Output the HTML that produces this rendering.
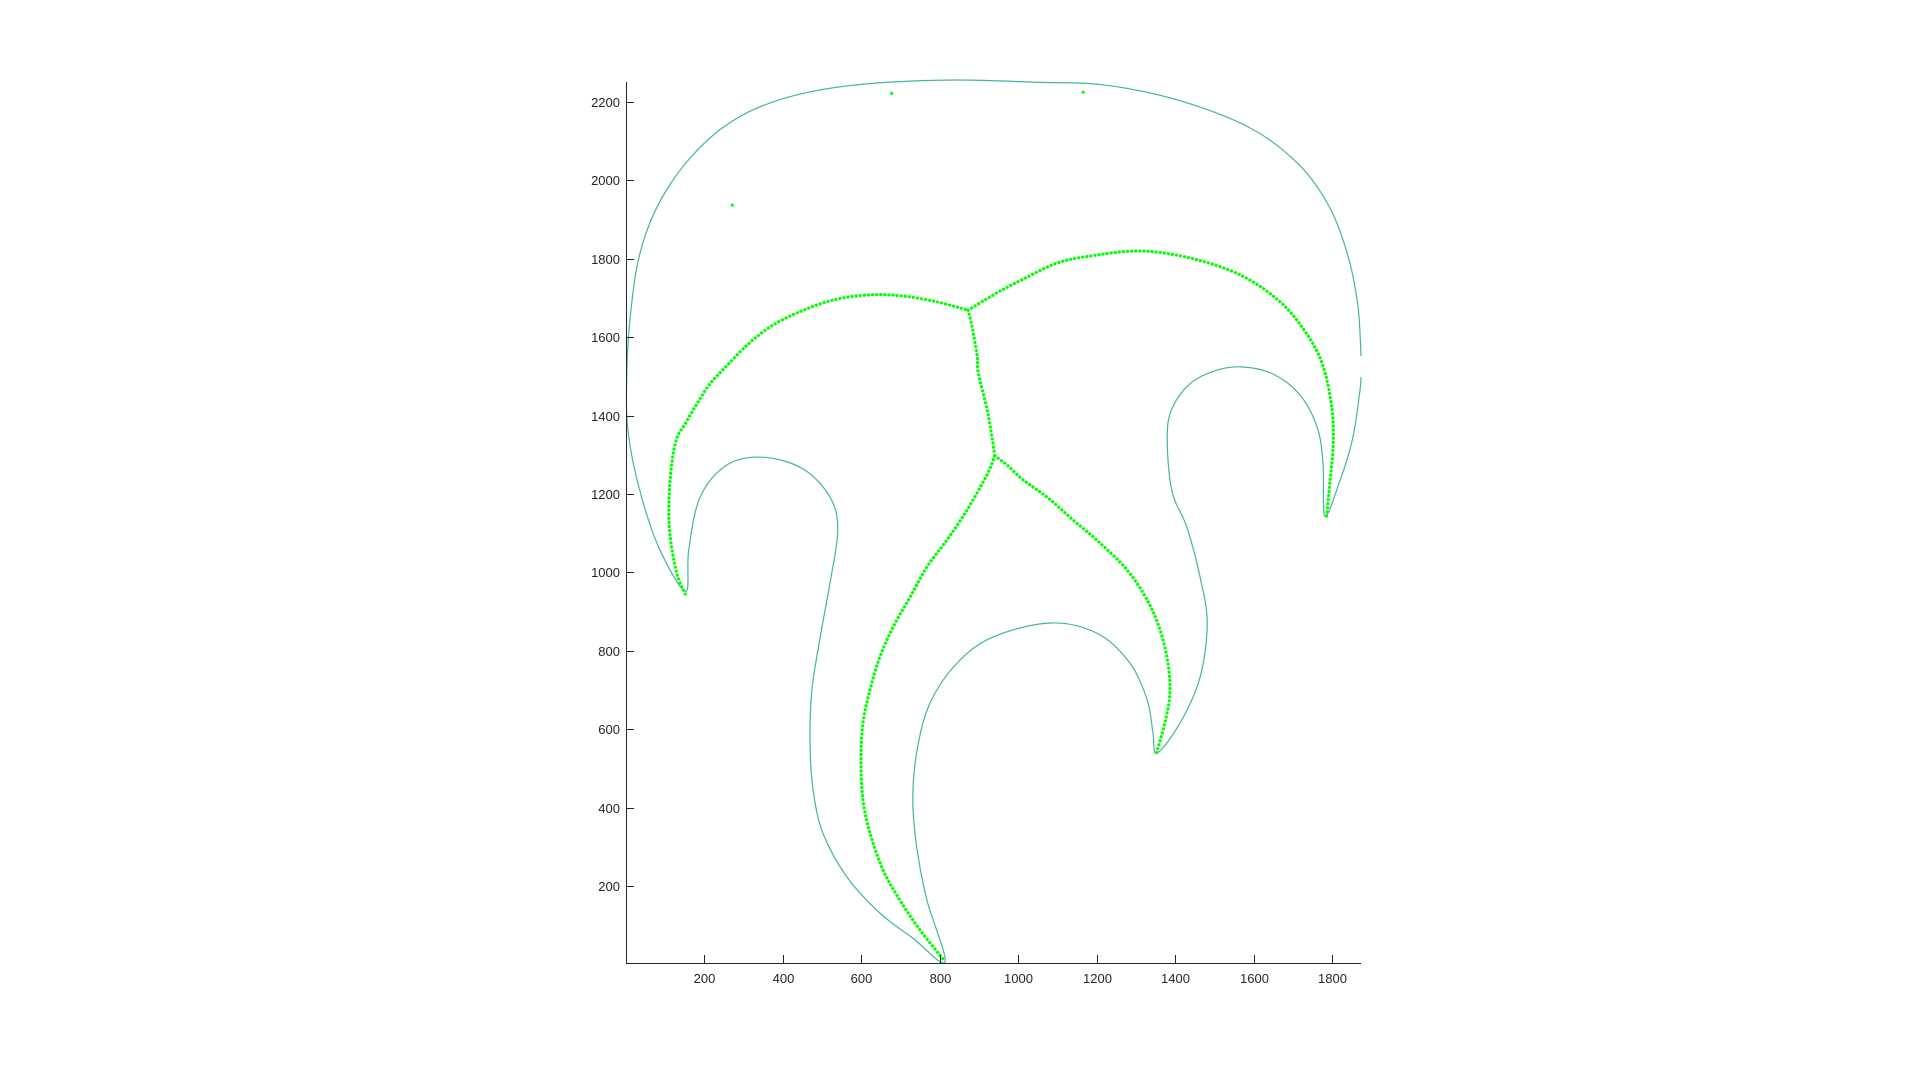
<!DOCTYPE html>
<html><head><meta charset="utf-8"><style>
html,body{margin:0;padding:0;background:#fff;}
svg{display:block;}
text{font-family:"Liberation Sans",sans-serif;font-size:13px;fill:#262626;}
</style></head>
<body>
<svg id="chart" width="1920" height="1083" viewBox="0 0 1920 1083" xmlns="http://www.w3.org/2000/svg">
<rect width="1920" height="1083" fill="#fff"/>
<g id="plot"></g>
<g id="axes"></g>
</svg>
<script>
const xTicks=[200,400,600,800,1000,1200,1400,1600,1800];
const yTicks=[200,400,600,800,1000,1200,1400,1600,1800,2000,2200];
const outlineA=[[1874,1498],[1871,1463],[1853,1343],[1820,1233],[1782,1144],[1777,1279],[1762,1371],[1718,1453],[1650,1506],[1573,1524],[1507,1516],[1438,1481],[1392,1417],[1380,1343],[1392,1208],[1430,1116],[1464,988],[1482,871],[1464,733],[1413,616],[1354,539],[1344,590],[1329,675],[1285,769],[1201,845],[1082,871],[936,835],[845,769],[776,667],[743,547],[732,419],[743,292],[768,164],[814,6],[732,67],[648,131],[564,223],[503,335],[478,445],[470,565],[475,700],[496,835],[521,973],[541,1108],[521,1192],[452,1264],[350,1294],[258,1274],[190,1192],[161,1057],[152,952],[80,1075],[29,1238],[5,1373],[3,1491],[9,1618],[28,1774],[59,1884],[106,1978],[169,2062],[247,2134],[341,2187],[466,2225],[622,2247],[841,2256],[1059,2250],[1216,2244],[1403,2206],[1591,2134],[1716,2040],[1794,1931],[1841,1806],[1866,1680],[1874,1552]];
const dotsLeftArc=[[152,945],[130,1000],[113,1098],[111,1187],[118,1279],[131,1343],[152,1379],[182,1430],[215,1481],[258,1527],[310,1580],[368,1626],[437,1662],[529,1695],[623,1708],[707,1705],[794,1690],[873,1669]];
const dotsRightArc=[[873,1669],[946,1713],[1013,1748],[1099,1789],[1183,1807],[1311,1820],[1438,1802],[1566,1759],[1668,1690],[1736,1608],[1777,1527],[1800,1417],[1803,1325],[1795,1233],[1786,1140]];
const dotsStem=[[873,1669],[883,1626],[896,1552],[899,1508],[921,1417],[934,1343],[941,1297]];
const dotsLeftBranch=[[941,1297],[921,1249],[870,1159],[819,1083],[768,1014],[725,937],[682,861],[648,784],[623,700],[605,616],[600,521],[605,419],[623,335],[656,241],[699,164],[750,88],[812,10]];
const dotsRightBranch=[[941,1297],[972,1274],[1013,1236],[1074,1192],[1140,1134],[1209,1075],[1278,1006],[1329,930],[1362,853],[1382,769],[1387,692],[1374,616],[1352,536]];
const strayX=[678,1166,272];
const strayY=[2222,2225,1937];

const sx=x=>704+(x-200)*0.3925;
const sy=y=>102-(y-2200)*0.392;
const NS='http://www.w3.org/2000/svg';
const plot=document.getElementById('plot');
const axes=document.getElementById('axes');
function smooth(pts){
  const p=pts.map(d=>[sx(d[0]),sy(d[1])]);
  let s='M'+p[0][0].toFixed(1)+','+p[0][1].toFixed(1);
  for(let i=0;i<p.length-1;i++){
    const p0=p[Math.max(0,i-1)],p1=p[i],p2=p[i+1],p3=p[Math.min(p.length-1,i+2)];
    const c1=[p1[0]+(p2[0]-p0[0])/6,p1[1]+(p2[1]-p0[1])/6];
    const c2=[p2[0]-(p3[0]-p1[0])/6,p2[1]-(p3[1]-p1[1])/6];
    s+='C'+c1[0].toFixed(1)+','+c1[1].toFixed(1)+' '+c2[0].toFixed(1)+','+c2[1].toFixed(1)+' '+p2[0].toFixed(1)+','+p2[1].toFixed(1);
  }
  return s;
}
const ol=document.createElementNS(NS,'path');
ol.setAttribute('d',smooth(outlineA));
ol.setAttribute('fill','none');ol.setAttribute('stroke','#45b3a3');ol.setAttribute('stroke-width','1.2');


plot.appendChild(ol);
const branches=[['dots-left-arc',dotsLeftArc],['dots-right-arc',dotsRightArc],['dots-stem',dotsStem],['dots-left-branch',dotsLeftBranch],['dots-right-branch',dotsRightBranch]];
branches.forEach(b=>{
  const pth=document.createElementNS(NS,'path');
  pth.setAttribute('d',smooth(b[1]));
  pth.setAttribute('fill','none');pth.setAttribute('stroke','#00ff00');pth.setAttribute('stroke-width','3.2');
  pth.setAttribute('stroke-linecap','round');pth.setAttribute('stroke-dasharray','0.1 4');
  
  
  plot.appendChild(pth);
});
strayX.forEach((x,i)=>{
  const c=document.createElementNS(NS,'circle');
  c.setAttribute('cx',sx(x));c.setAttribute('cy',sy(strayY[i]));c.setAttribute('r','1.6');c.setAttribute('fill','#00ff00');
  
  
  plot.appendChild(c);
});
function line(x1,y1,x2,y2,name){
  const l=document.createElementNS(NS,'line');
  l.setAttribute('x1',x1);l.setAttribute('y1',y1);l.setAttribute('x2',x2);l.setAttribute('y2',y2);
  l.setAttribute('stroke','#262626');l.setAttribute('stroke-width','1');
  
  
  axes.appendChild(l);
}
line(626.5,82,626.5,963,'y-axis-line');
line(626,963.5,1361,963.5,'x-axis-line');
xTicks.forEach(t=>{
  const x=Math.round(sx(t))+0.5;
  line(x,963,x,955,'x-tick');
  const tx=document.createElementNS(NS,'text');
  tx.setAttribute('x',x);tx.setAttribute('y',983);tx.setAttribute('text-anchor','middle');
  tx.textContent=t;
  
  
  axes.appendChild(tx);
});
yTicks.forEach(t=>{
  const y=Math.round(sy(t))+0.5;
  line(626,y,634,y,'y-tick');
  const tx=document.createElementNS(NS,'text');
  tx.setAttribute('x',620);tx.setAttribute('y',y+4.5);tx.setAttribute('text-anchor','end');
  tx.textContent=t;
  
  
  axes.appendChild(tx);
});
</script>
</body></html>
